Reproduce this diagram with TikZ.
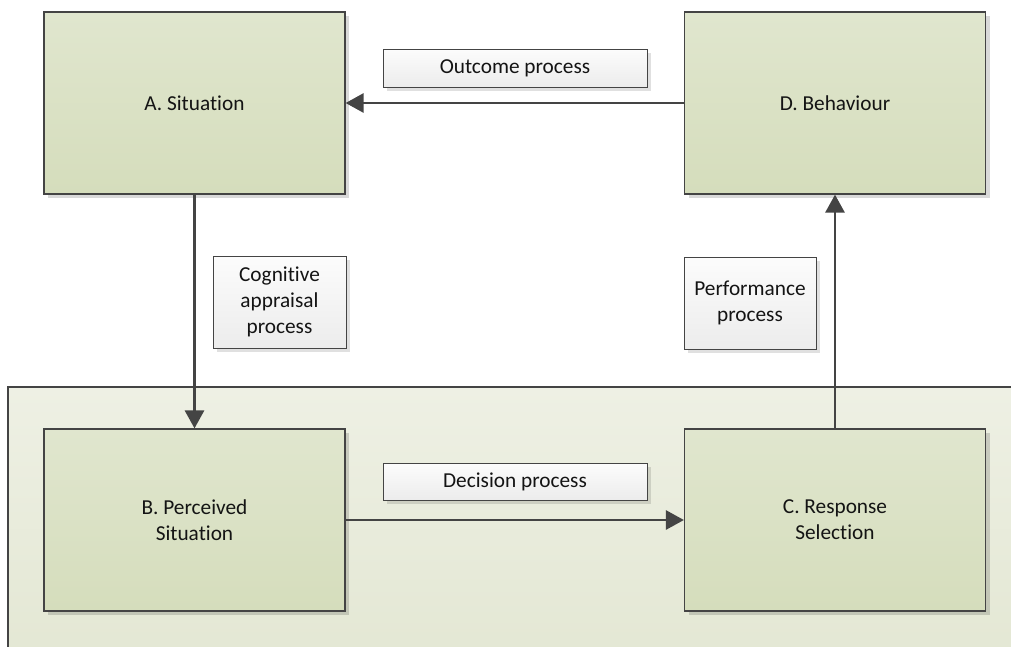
\documentclass[tikz,border=0pt]{standalone}
\usepackage{fontspec}
\setmainfont{Carlito}[RawFeature=-liga]
\usetikzlibrary{arrows.meta,shadows}
\definecolor{edge}{RGB}{68,68,68}
\definecolor{ink}{RGB}{20,20,20}
\definecolor{boxtop}{RGB}{224,230,206}
\definecolor{boxbot}{RGB}{213,221,188}
\definecolor{paneltop}{RGB}{238,240,228}
\definecolor{panelbot}{RGB}{227,231,211}
\definecolor{tagtop}{RGB}{252,252,252}
\definecolor{tagbot}{RGB}{236,236,236}
\tikzset{
  stage/.style={draw=edge, line width=1.2pt, top color=boxtop, bottom color=boxbot,
    minimum width=301pt, minimum height=182pt, align=center, inner sep=0pt, text=ink,
    drop shadow={shadow xshift=4pt, shadow yshift=-4pt, fill=black, opacity=0.15}},
  tag/.style={draw=edge, line width=1pt, top color=tagtop, bottom color=tagbot,
    align=center, inner sep=0pt, text=ink,
    drop shadow={shadow xshift=4pt, shadow yshift=-4pt, fill=black, opacity=0.12}},
  flow/.style={draw=edge, line width=2.8pt, -{Triangle[length=18pt,width=19pt]}},
}
\begin{document}
\begin{tikzpicture}[x=1pt, y=-1pt,
  font=\fontsize{21.3pt}{26pt}\selectfont]
  \useasboundingbox (0,0) rectangle (1011,646);
  \clip (0,0) rectangle (1011,646);
  % shaded panel holding the two inner stages
  \path[draw=edge, line width=1.2pt, top color=paneltop, bottom color=panelbot]
    (8,387) rectangle (1030,670);

  % the four stages
  \node[stage] (A) at (194.5,103) {A. Situation};
  \node[stage] (D) at (835,103) {D. Behaviour};
  \node[stage] (B) at (194.5,520) {B. Perceived\\Situation};
  \node[stage] (C) at (835,520) {C. Response\\Selection};

  % process labels
  \node[tag, minimum width=264pt, minimum height=38pt] (out) at (515,68) {Outcome process};
  \node[tag, minimum width=264pt, minimum height=37pt] (dec) at (515,481.5) {Decision process};
  \node[tag, minimum width=133pt, minimum height=92pt] (cog) at (279.5,302) {Cognitive\\appraisal\\process};
  \node[tag, minimum width=132pt, minimum height=92pt] (perf) at (750,303) {Performance\\process};

  % connectors
  \draw[flow] (D.west) -- (A.east);
  \draw[flow] (A.south) -- (B.north);
  \draw[flow] (B.east) -- (C.west);
  \draw[flow] (C.north) -- (D.south);
\end{tikzpicture}
\end{document}
